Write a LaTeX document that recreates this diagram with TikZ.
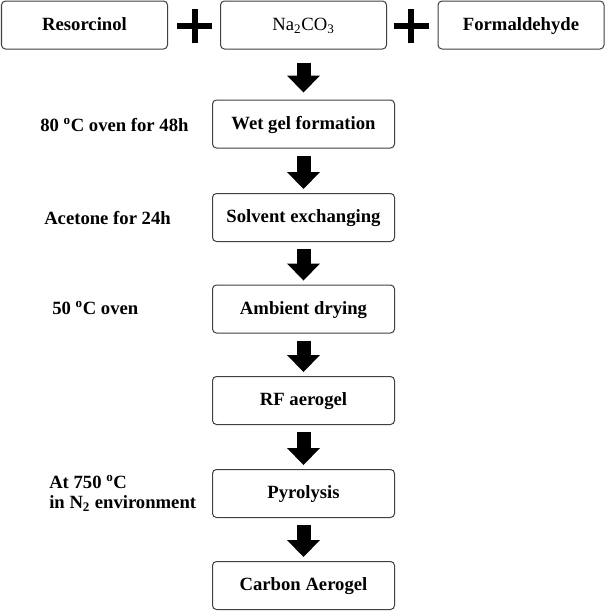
\documentclass[tikz,border=0pt]{standalone}
\usepackage{fontspec}
\setmainfont{Liberation Serif}
\usetikzlibrary{arrows.meta}
\tikzset{
    step-box/.style = {draw=black!75, fill=white, line width=0.75pt, rectangle, rounded corners=3pt, minimum width=182*0.75pt, minimum height=48*0.75pt, text height=9pt, text depth=0.8pt, font=\fontsize{14}{15}\selectfont\bfseries},
    input-box/.style = {step-box, minimum width=166*0.75pt},
    side-text/.style = {anchor=west, align=left, inner sep=0pt, font=\fontsize{14}{15}\selectfont\bfseries},
    big-arrow/.style = {line width=14*0.75pt, -{Triangle[width=33*0.75pt, length=17*0.75pt, line width=0pt]}, shorten <=7*0.75pt, shorten >=4*0.75pt},
    plus-sign/.style = {line width=6*0.75pt},
}

\begin{document}
\begin{tikzpicture}[x=0.75pt, y=-0.75pt]
\useasboundingbox (0,0) rectangle (606,611);
% starting materials
\node [input-box] (resorcinol) at (84.5,25) {Resorcinol};
\node [input-box, font=\fontsize{14}{15}\selectfont] (carbonate) at (303.5,25) {Na\textsubscript{2}CO\textsubscript{3}};
\node [input-box] (formaldehyde) at (521,25) {Formaldehyde};
\draw [plus-sign] (194.5,9) -- (194.5,43) (177,26) -- (212,26);
\draw [plus-sign] (411,9) -- (411,43) (393.5,26) -- (428.5,26);

% process steps
\node [step-box] (wetgel) at (303.5,124) {Wet gel formation};
\node [step-box] (solvent) at (303.5,217.5) {Solvent exchanging};
\node [step-box] (drying) at (303.5,309) {Ambient drying};
\node [step-box] (rfgel) at (303.5,400.5) {RF aerogel};
\node [step-box] (pyrolysis) at (303.5,493.5) {Pyrolysis};
\node [step-box] (carbongel) at (303.5,585.5) {Carbon Aerogel};

% conditions
\node [side-text] (cond-oven) at (40,125) {80 \textsuperscript{o}C oven for 48h};
\node [side-text] (cond-acetone) at (44,218) {Acetone for 24h};
\node [side-text] (cond-dry) at (52,308) {50 \textsuperscript{o}C oven};
\node [side-text] (cond-pyro) at (49,493) {At 750 \textsuperscript{o}C\\in N\textsubscript{2} environment};

% arrows
\draw [big-arrow, shorten <=13*0.75pt, shorten >=7*0.75pt] (carbonate) -- (wetgel);
\draw [big-arrow] (wetgel) -- (solvent);
\draw [big-arrow] (solvent) -- (drying);
\draw [big-arrow] (drying) -- (rfgel);
\draw [big-arrow] (rfgel) -- (pyrolysis);
\draw [big-arrow] (pyrolysis) -- (carbongel);
\end{tikzpicture}
\end{document}
